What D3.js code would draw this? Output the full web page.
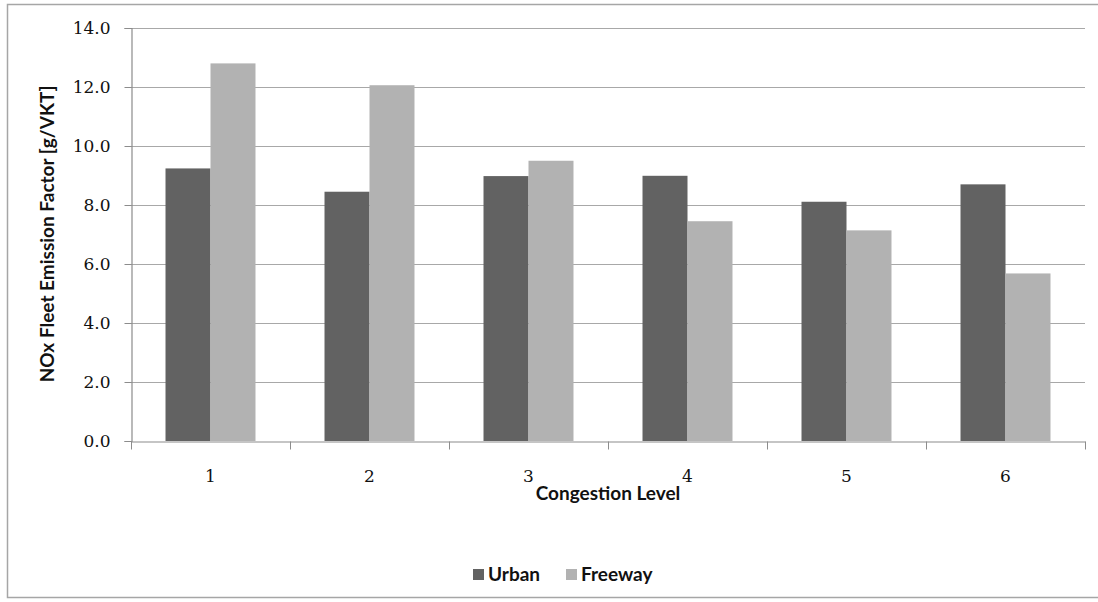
<!DOCTYPE html>
<html>
<head>
<meta charset="utf-8">
<script src="https://cdn.jsdelivr.net/npm/d3@7"></script>
<style>
  html, body { margin: 0; padding: 0; background: #fff; }
  svg { display: block; }
</style>
</head>
<body>
<svg id="chart" width="1098" height="602"></svg>
<script>
// NOx fleet emission factor by congestion level, urban vs freeway
const categories = ["1", "2", "3", "4", "5", "6"];
const seriesNames = ["Urban", "Freeway"];
const urbanValues = [9.24, 8.45, 8.98, 8.99, 8.11, 8.70];
const freewayValues = [12.80, 12.06, 9.50, 7.45, 7.14, 5.68];
const yTicks = [0, 2, 4, 6, 8, 10, 12, 14];
const colors = ["#626262", "#b2b2b2"];

const svg = d3.select("#chart");
const plot = { left: 131, right: 1085, top: 28, bottom: 441 };

// outer chart border
svg.append("rect")
  .attr("x", 7.5).attr("y", 4.5)
  .attr("width", 1100).attr("height", 593)
  .attr("fill", "#fff").attr("stroke", "#a6a6a6").attr("stroke-width", 1.5);

const x = d3.scaleBand()
  .domain(categories)
  .range([plot.left, plot.right])
  .paddingInner(0.434)
  .paddingOuter(0.217);

const xSub = d3.scaleBand()
  .domain(seriesNames)
  .range([0, x.bandwidth()]);

const y = d3.scaleLinear().domain([0, 14]).range([plot.bottom, plot.top]);

// horizontal gridlines
svg.append("g")
  .selectAll("line")
  .data(yTicks.filter(d => d > 0))
  .join("line")
  .attr("x1", plot.left).attr("x2", plot.right)
  .attr("y1", d => Math.round(y(d)) + 0.5).attr("y2", d => Math.round(y(d)) + 0.5)
  .attr("stroke", "#a8a8a8").attr("stroke-width", 1.2);

// bars
const rows = categories.map((c, i) => ({ cat: c, values: [urbanValues[i], freewayValues[i]] }));
const groups = svg.append("g").selectAll("g")
  .data(rows)
  .join("g")
  .attr("transform", d => `translate(${x(d.cat)},0)`);

groups.selectAll("rect")
  .data(d => d.values.map((v, j) => ({ name: seriesNames[j], value: v, j })))
  .join("rect")
  .attr("x", d => xSub(d.name))
  .attr("width", xSub.bandwidth())
  .attr("y", d => y(d.value))
  .attr("height", d => y(0) - y(d.value))
  .attr("fill", d => colors[d.j]);

const tickFont = "DejaVu Serif, serif";

// y axis
const yAxis = d3.axisLeft(y)
  .tickValues(yTicks)
  .tickFormat(d3.format(".1f"))
  .tickSize(7)
  .tickPadding(14);
const gy = svg.append("g")
  .attr("transform", `translate(${plot.left + 0.5},0)`)
  .call(yAxis);
gy.select(".domain").attr("stroke", "#8c8c8c").attr("stroke-width", 1.2);
gy.selectAll(".tick line").attr("stroke", "#8c8c8c");
gy.selectAll(".tick text")
  .attr("font-family", tickFont)
  .attr("font-size", 17)
  .attr("fill", "#111");

// x axis
const xAxis = d3.axisBottom(x).tickSize(0).tickPadding(28);
const gx = svg.append("g")
  .attr("transform", `translate(0,${plot.bottom + 0.5})`)
  .call(xAxis);
gx.select(".domain").attr("stroke", "#8c8c8c").attr("stroke-width", 1.2);
gx.selectAll(".tick text")
  .attr("font-family", tickFont)
  .attr("font-size", 17)
  .attr("fill", "#111");

// tick marks between categories
const step = x.step();
const boundaries = d3.range(categories.length + 1).map(i => plot.left + i * step);
gx.selectAll("line.sep")
  .data(boundaries)
  .join("line")
  .attr("class", "sep")
  .attr("x1", d => Math.round(d) + 0.5).attr("x2", d => Math.round(d) + 0.5)
  .attr("y1", 0).attr("y2", 8)
  .attr("stroke", "#8c8c8c");

const titleFont = "Lato, sans-serif";

// axis titles
svg.append("text")
  .attr("transform", `translate(54,234) rotate(-90)`)
  .attr("text-anchor", "middle")
  .attr("font-family", titleFont)
  .attr("font-weight", "bold")
  .attr("font-size", 19)
  .attr("fill", "#111")
  .text("NOx Fleet Emission Factor [g/VKT]");

svg.append("text")
  .attr("x", 608).attr("y", 500)
  .attr("text-anchor", "middle")
  .attr("font-family", titleFont)
  .attr("font-weight", "bold")
  .attr("font-size", 19)
  .attr("fill", "#111")
  .text("Congestion Level");

// legend
const legendItems = [
  { name: seriesNames[0], color: colors[0], x: 473 },
  { name: seriesNames[1], color: colors[1], x: 566 }
];
const legend = svg.append("g");
legend.selectAll("rect")
  .data(legendItems)
  .join("rect")
  .attr("x", d => d.x).attr("y", 569)
  .attr("width", 11).attr("height", 11)
  .attr("fill", d => d.color);
legend.selectAll("text")
  .data(legendItems)
  .join("text")
  .attr("x", d => d.x + 15).attr("y", 581)
  .attr("font-family", titleFont)
  .attr("font-weight", "bold")
  .attr("font-size", 19)
  .attr("fill", "#111")
  .text(d => d.name);
</script>
</body>
</html>
